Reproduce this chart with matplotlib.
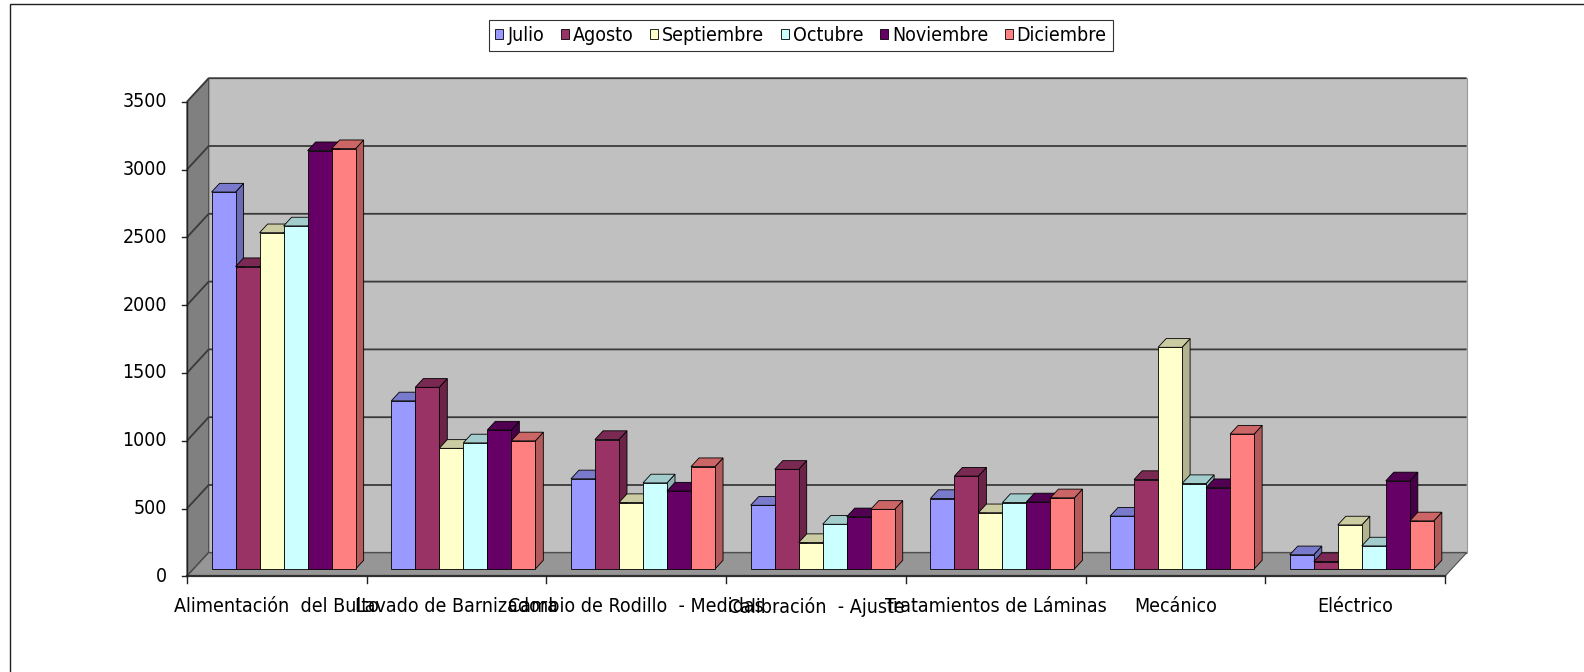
import os
import matplotlib
matplotlib.use("Agg")
import matplotlib.pyplot as plt
from matplotlib import font_manager
from matplotlib.patches import Polygon, Rectangle, Patch
from matplotlib.colors import to_rgb

categorias = ["Alimentación  del Bulto", "Lavado de Barnizadora",
              "Cambio de Rodillo  - Medidas", "Calibración  - Ajuste",
              "Tratamientos de Láminas", "Mecánico", "Eléctrico"]
meses = ["Julio", "Agosto", "Septiembre", "Octubre", "Noviembre", "Diciembre"]

julio = [2780, 1240, 665, 470, 520, 390, 105]
agosto = [2230, 1340, 955, 735, 685, 660, 55]
septiembre = [2480, 890, 490, 195, 415, 1635, 325]
octubre = [2530, 930, 635, 330, 490, 630, 170]
noviembre = [3085, 1025, 575, 385, 495, 600, 650]
diciembre = [3100, 945, 755, 440, 525, 995, 355]
series = [julio, agosto, septiembre, octubre, noviembre, diciembre]

colores = ["#9999FF", "#993366", "#FFFFCC", "#CCFFFF", "#660066", "#FF8080"]
yticks = [0, 500, 1000, 1500, 2000, 2500, 3000, 3500]


def condensed_font(size):
    # narrow sans close to Tahoma; fall back to plain DejaVu Sans
    files = font_manager.findSystemFonts() + [f.fname for f in font_manager.fontManager.ttflist]
    for name in ("DejaVuSansCondensed.ttf", "LiberationSansNarrow-Regular.ttf"):
        for f in files:
            if os.path.basename(f) == name:
                return font_manager.FontProperties(fname=f, size=size)
    return font_manager.FontProperties(family="DejaVu Sans", size=size)


W, H, DPI = 1584, 672, 100
fig = plt.figure(figsize=(W / DPI, H / DPI), dpi=DPI)
fig.patch.set_facecolor("white")

# front plane: category 0 at x=187px, value 0 at y=576px (from top)
x0_px, cat_px = 187.0, 179.7
y0_px, val_px = 576.3, 0.1356
ax = fig.add_axes([0, 0, 1, 1])
ax.set_xlim(-x0_px / cat_px, (W - x0_px) / cat_px)
ax.set_ylim(-(H - y0_px) / val_px, y0_px / val_px)
ax.axis("off")

n = len(categorias)
ymax = yticks[-1]
dx = 21.7 / cat_px        # wall depth in category units
dy = 23.5 / val_px        # wall depth in value units
f0, f1 = 0.31, 0.68       # bar front/back depth fractions
bar_w = 0.1336

font = condensed_font(14)

# walls and floor
ax.add_patch(Polygon([(0, 0), (0, ymax), (dx, ymax + dy), (dx, dy)],
                     facecolor="#808080", edgecolor="#404040", lw=0.8, zorder=0))
ax.add_patch(Polygon([(dx, dy), (n + dx, dy), (n + dx, ymax + dy), (dx, ymax + dy)],
                     facecolor="#C0C0C0", edgecolor="#9a9a9a", lw=0.8, zorder=0))
for v in yticks:
    ax.plot([0, dx, n + dx], [v, v + dy, v + dy], color="#3a3a3a", lw=1.3,
            solid_capstyle="butt", zorder=1)
ax.add_patch(Polygon([(0, 0), (n, 0), (n + dx, dy), (dx, dy)],
                     facecolor="#969696", edgecolor="#505050", lw=0.8, zorder=2))
ax.plot([0, n], [0, 0], color="#303030", lw=1.6, zorder=2)

# axes lines, ticks and labels
ax.plot([0, 0], [0, ymax], color="#202020", lw=1.0, zorder=2)
tick_x = 5 / cat_px
for v in yticks:
    ax.plot([-tick_x, 0], [v, v], color="#202020", lw=1.0, zorder=2)
    ax.text(-20 / cat_px, v, str(v), ha="right", va="center", fontproperties=font)
tick_y = 7 / val_px
for c in range(n + 1):
    ax.plot([c, c], [0, -tick_y], color="#202020", lw=1.0, zorder=2)
for c, lab in enumerate(categorias):
    ax.text(c + 0.5, -30.5 / val_px, lab, ha="center", va="center", fontproperties=font)


def shade(color, k):
    r, g, b = to_rgb(color)
    return (r * k, g * k, b * k)


def draw_bar(x, v, color, zo):
    bx, by = x + f0 * dx, f0 * dy
    ddx, ddy = (f1 - f0) * dx, (f1 - f0) * dy
    kw = dict(edgecolor="black", lw=0.6, zorder=zo)
    ax.add_patch(Polygon([(bx + bar_w, by), (bx + bar_w + ddx, by + ddy),
                          (bx + bar_w + ddx, by + v + ddy), (bx + bar_w, by + v)],
                         facecolor=shade(color, 0.7), **kw))
    ax.add_patch(Polygon([(bx, by + v), (bx + bar_w, by + v),
                          (bx + bar_w + ddx, by + v + ddy), (bx + ddx, by + v + ddy)],
                         facecolor=shade(color, 0.8), **kw))
    ax.add_patch(Rectangle((bx, by), bar_w, v, facecolor=color, **kw))


zo = 3
for c in range(n):
    for j, vals in enumerate(series):
        draw_bar(c + 0.5 + (j - 3) * bar_w, vals[c], colores[j], zo)
        zo += 1

handles = [Patch(facecolor=col, edgecolor="black", lw=0.6) for col in colores]
leg = fig.legend(handles, meses, loc="center", bbox_to_anchor=(801 / W, 1 - 35.5 / H),
                 ncol=6, prop=font, frameon=True, fancybox=False,
                 handlelength=0.42, handleheight=0.42, handletextpad=0.2,
                 columnspacing=0.85, borderpad=0.32)
leg.get_frame().set_edgecolor("black")
leg.get_frame().set_linewidth(0.8)

# outer chart frame
fig.patches.append(Rectangle((9.5 / W, -0.1), 1.2, 1.1 - 4 / H, transform=fig.transFigure,
                             fill=False, edgecolor="#202020", lw=1.0, zorder=0))

fig.savefig("out.png", dpi=DPI)
